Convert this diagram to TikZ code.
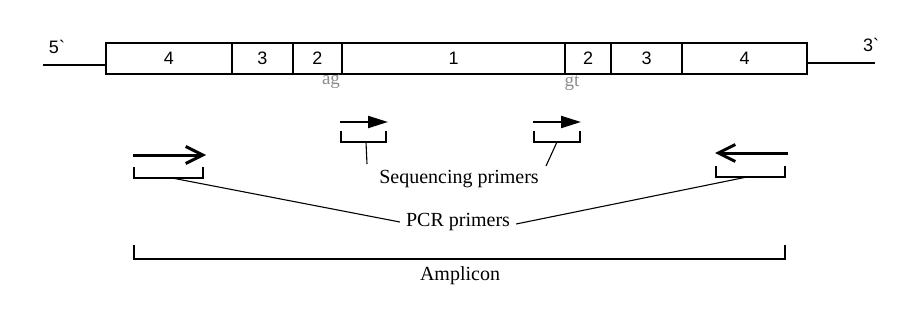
\documentclass[tikz,border=0pt]{standalone}
\usepackage{fontspec}
\setmainfont{Liberation Serif}
\newfontfamily\digitfont{Liberation Sans}
\usetikzlibrary{arrows.meta,calc}
\begin{document}
\begin{tikzpicture}[x=1pt,y=-1pt,
  seg/.style={draw,line width=1.4pt,minimum height=31pt,inner sep=0pt,font=\digitfont\fontsize{18}{18}\selectfont},
  ends/.style={font=\digitfont\fontsize{18}{18}\selectfont,inner sep=0pt},
  site/.style={font=\fontsize{19}{19}\selectfont,text=black!45,inner sep=0pt},
  lbl/.style={font=\fontsize{20}{20}\selectfont,inner sep=0pt},
  strand/.style={line width=1.3pt},
  bracket/.style={line width=1.5pt},
  leader/.style={line width=1.1pt},
  pcrarrow/.style={line width=3pt,-{Straight Barb[length=17pt,width=17pt,line width=3pt]}},
  seqarrow/.style={line width=2.2pt,-{Triangle[length=20pt,width=12pt]}}
]
\useasboundingbox (0,0) rectangle (897,329);
% exon / intron segments
\node[seg,minimum width=126pt] (s1) at (169,58.5) {4};
\node[seg,minimum width=61pt] (s2) at (262.5,58.5) {3};
\node[seg,minimum width=49pt] (s3) at (317.5,58.5) {2};
\node[seg,minimum width=223pt] (s4) at (453.5,58.5) {1};
\node[seg,minimum width=46pt] (s5) at (588,58.5) {2};
\node[seg,minimum width=71pt] (s6) at (646.5,58.5) {3};
\node[seg,minimum width=125pt] (s7) at (744.5,58.5) {4};
% flanking strands
\coordinate (l5) at (43,65);
\coordinate (r3) at (875,63);
\draw[strand] (l5) -- (l5 -| s1.west);
\draw[strand] (s7.east |- r3) -- (r3);
\node[ends] (p5) at (57,47) {5`};
\node[ends] (p3) at (871,45) {3`};
% splice sites
\node[site] (ag) at (331,82) {ag};
\node[site] (gt) at (572,83) {gt};
% sequencing primers
\coordinate (sa1) at (340,122); \coordinate (sa1e) at (388,122);
\coordinate (sa2) at (533,122); \coordinate (sa2e) at (581,122);
\draw[seqarrow] (sa1) -- (sa1e);
\draw[seqarrow] (sa2) -- (sa2e);
\draw[bracket] (341,131) -- (341,142) -- (386,142) -- (386,131);
\draw[bracket] (534,131) -- (534,142) -- (580,142) -- (580,131);
\coordinate (sb1) at (366,142);
\coordinate (sb2) at (557,142);
\node[lbl] (seq) at (459,179) {Sequencing primers};
\draw[leader] (sb1) -- (367,164);
\draw[leader] (sb2) -- (546,166);
% PCR primers
\coordinate (pa1) at (133,155); \coordinate (pa1e) at (206,155);
\coordinate (pa2) at (788,153); \coordinate (pa2e) at (715,153);
\draw[pcrarrow] (pa1) -- (pa1e);
\draw[pcrarrow] (pa2) -- (pa2e);
\draw[bracket] (134,167) -- (134,178) -- (203,178) -- (203,167);
\draw[bracket] (716,166) -- (716,177) -- (785,177) -- (785,166);
\coordinate (pb1) at (172,178);
\coordinate (pb2) at (747,177);
\node[lbl] (pcr) at (458,222) {PCR primers};
\draw[leader] (pb1) -- ($(pcr.west)+(-6,0)$);
\draw[leader] (pb2) -- ($(pcr.east)+(6,2)$);
% amplicon
\draw[bracket] (134,245) -- (134,259) -- (785,259) -- (785,245);
\node[lbl] (amp) at (460,276) {Amplicon};
\end{tikzpicture}
\end{document}
